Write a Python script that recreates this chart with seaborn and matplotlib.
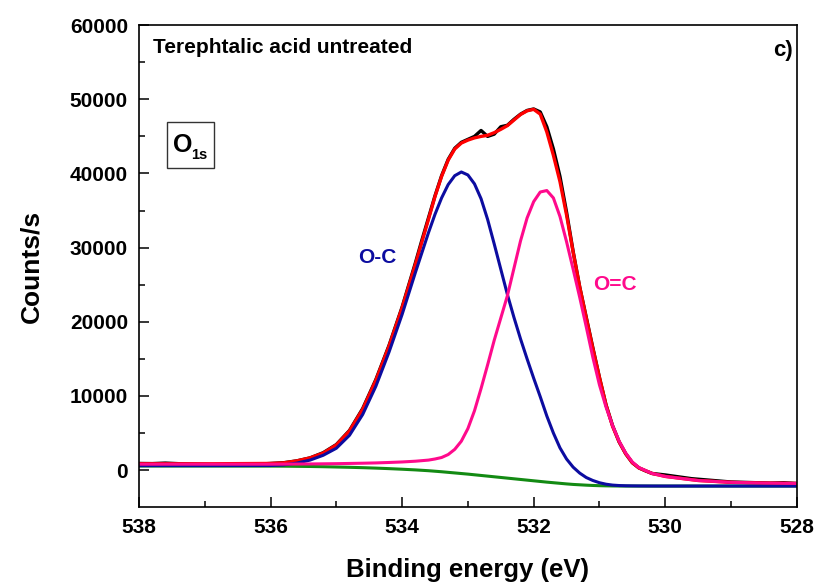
import matplotlib
matplotlib.use("Agg")
import matplotlib.pyplot as plt
from matplotlib.patches import Rectangle
import seaborn as sns
import pandas as pd

# Binding-energy grid used by the fitted curves (eV)
be_fit = [538.0, 537.0, 536.0, 535.8, 535.6, 535.4, 535.2, 535.0, 534.8, 534.6,
          534.4, 534.2, 534.0, 533.8, 533.6, 533.5, 533.4, 533.3, 533.2, 533.1,
          533.0, 532.9, 532.8, 532.7, 532.6, 532.5, 532.4, 532.3, 532.2, 532.1,
          532.0, 531.9, 531.8, 531.7, 531.6, 531.5, 531.4, 531.3, 531.2, 531.1,
          531.0, 530.9, 530.8, 530.7, 530.6, 530.5, 530.4, 530.2, 530.0, 529.5,
          529.0, 528.5, 528.0]

# Shirley-type background (counts/s)
background = [550, 550, 540, 530, 510, 490, 460, 420, 380, 330,
              270, 200, 120, 30, -80, -150, -220, -300, -380, -460,
              -540, -630, -720, -810, -900, -990, -1080, -1170, -1260, -1350,
              -1440, -1530, -1620, -1700, -1780, -1860, -1930, -1980, -2030, -2070,
              -2100, -2120, -2135, -2145, -2150, -2150, -2150, -2150, -2150, -2150,
              -2150, -2150, -2150]

# O-C component (counts/s)
peak_oc = [600, 600, 620, 700, 950, 1350, 2000, 2950, 4700, 7500,
           11300, 15900, 21000, 26600, 32000, 34500, 36700, 38500, 39700, 40200,
           39800, 38600, 36600, 33800, 30500, 27100, 23700, 20600, 17700, 15000,
           12400, 9900, 7300, 5000, 3000, 1500, 400, -400, -1000, -1400,
           -1700, -1900, -2020, -2080, -2110, -2125, -2135, -2145, -2150, -2150,
           -2150, -2150, -2150]

# O=C component (counts/s)
peak_oeqc = [800, 800, 800, 810, 820, 830, 850, 870, 900, 930,
             970, 1030, 1100, 1200, 1350, 1500, 1700, 2100, 2800, 3900,
             5600, 8000, 11000, 14200, 17500, 20500, 23500, 27200, 30900, 34000,
             36200, 37500, 37700, 36700, 34200, 30800, 27100, 23300, 19300, 15200,
             11500, 8500, 6000, 3900, 2300, 1100, 350, -450, -850, -1400,
             -1650, -1750, -1800]

# Cumulative fit envelope (counts/s)
envelope = [850, 850, 900, 980, 1250, 1650, 2300, 3400, 5300, 8200,
            12100, 16700, 21900, 27700, 33800, 36900, 39600, 41800, 43300, 44100,
            44500, 44800, 45000, 45150, 45500, 45950, 46450, 47200, 47950, 48450,
            48650, 48000, 45600, 42450, 38900, 34400, 29400, 24700, 20500, 16400,
            12500, 8800, 5900, 3800, 2200, 1000, 300, -450, -850, -1400,
            -1650, -1750, -1800]

# Measured spectrum
be_meas = [538.0, 537.8, 537.6, 537.4, 537.2, 537.0, 536.8, 536.6, 536.4, 536.2,
           536.0, 535.8, 535.6, 535.4, 535.2, 535.0, 534.8, 534.6, 534.4, 534.2,
           534.0, 533.8, 533.7, 533.6, 533.5, 533.4, 533.3, 533.2, 533.1, 533.0,
           532.9, 532.8, 532.7, 532.6, 532.5, 532.4, 532.3, 532.2, 532.1, 532.0,
           531.9, 531.8, 531.7, 531.6, 531.5, 531.4, 531.3, 531.2, 531.1, 531.0,
           530.9, 530.8, 530.7, 530.6, 530.5, 530.4, 530.3, 530.2, 530.0, 529.8,
           529.6, 529.4, 529.2, 529.0, 528.8, 528.6, 528.4, 528.2, 528.0]
counts_meas = [900, 880, 950, 870, 820, 780, 700, 650, 700, 800,
               900, 1000, 1250, 1650, 2350, 3450, 5350, 8300, 12200, 16800,
               22000, 27900, 31000, 34000, 37000, 39700, 41900, 43400, 44200, 44600,
               45000, 45800, 45000, 45300, 46300, 46500, 47300, 48000, 48500, 48700,
               48300, 46300, 43300, 39600, 34800, 29500, 24700, 20600, 16500, 12500,
               8800, 6000, 3800, 2200, 1000, 300, -100, -450, -650, -900,
               -1150, -1300, -1450, -1600, -1650, -1700, -1750, -1700, -1800]

sns.set_theme(style="ticks")
plt.rcParams["font.family"] = ["Liberation Sans", "DejaVu Sans"]
plt.rcParams["font.weight"] = "bold"
plt.rcParams["text.color"] = "black"
plt.rcParams["axes.labelcolor"] = "black"

fig = plt.figure(figsize=(8.18, 5.85), dpi=100)
ax = fig.add_axes([0.170, 0.133, 0.804, 0.824])

fit = pd.DataFrame({"be": be_fit, "bg": background, "oc": peak_oc,
                    "oeqc": peak_oeqc, "env": envelope})
meas = pd.DataFrame({"be": be_meas, "counts": counts_meas})

sns.lineplot(data=meas, x="be", y="counts", ax=ax, color="black", linewidth=2.4)
sns.lineplot(data=fit, x="be", y="env", ax=ax, color="#ff0000", linewidth=2.4)
sns.lineplot(data=fit, x="be", y="bg", ax=ax, color="#138a13", linewidth=2.2)
sns.lineplot(data=fit, x="be", y="oc", ax=ax, color="#0c0ca0", linewidth=2.2)
sns.lineplot(data=fit, x="be", y="oeqc", ax=ax, color="#ff0a8c", linewidth=2.2)

ax.set_xlim(538, 528)
ax.set_ylim(-5000, 60000)
ax.set_xticks([538, 536, 534, 532, 530, 528])
ax.set_xticks([537, 535, 533, 531, 529], minor=True)
ax.set_yticks([0, 10000, 20000, 30000, 40000, 50000, 60000])
ax.set_yticks([5000, 15000, 25000, 35000, 45000, 55000], minor=True)
ax.tick_params(axis="both", which="major", direction="in", length=7, width=1.1,
               labelsize=15, pad=8, color="black", labelcolor="black")
ax.tick_params(axis="both", which="minor", direction="in", length=4, width=1.1,
               color="black")
for lab in ax.get_xticklabels() + ax.get_yticklabels():
    lab.set_fontweight("bold")
for sp in ax.spines.values():
    sp.set_visible(True)
    sp.set_linewidth(1.2)
    sp.set_color("black")

ax.set_xlabel("Binding energy (eV)", fontsize=18.5, fontweight="bold",
              labelpad=15, color="black")
ax.set_ylabel("Counts/s", fontsize=19, fontweight="bold", labelpad=19,
              color="black")

ax.text(0.021, 0.954, "Terephtalic acid untreated", transform=ax.transAxes,
        ha="left", va="center", fontsize=15, fontweight="bold", color="black")
ax.text(0.994, 0.948, "c)", transform=ax.transAxes, ha="right", va="center",
        fontsize=16, fontweight="bold", color="black")

# O1s core-level box
ax.add_patch(Rectangle((0.0426, 0.703), 0.0714, 0.096, transform=ax.transAxes,
                       fill=True, facecolor="white", edgecolor="#333333",
                       linewidth=1.0, zorder=5))
ax.text(0.066, 0.752, "O", transform=ax.transAxes, ha="center", va="center",
        fontsize=18, fontweight="bold", color="black", zorder=6)
ax.text(0.092, 0.731, "1s", transform=ax.transAxes, ha="center", va="center",
        fontsize=10.5, fontweight="bold", color="black", zorder=6)

ax.text(534.37, 28700, "O-C", ha="center", va="center", fontsize=15,
        fontweight="bold", color="#0c0ca0")
ax.text(530.77, 25070, "O=C", ha="center", va="center", fontsize=15,
        fontweight="bold", color="#ff0a8c")

fig.savefig("out.png", dpi=100)
